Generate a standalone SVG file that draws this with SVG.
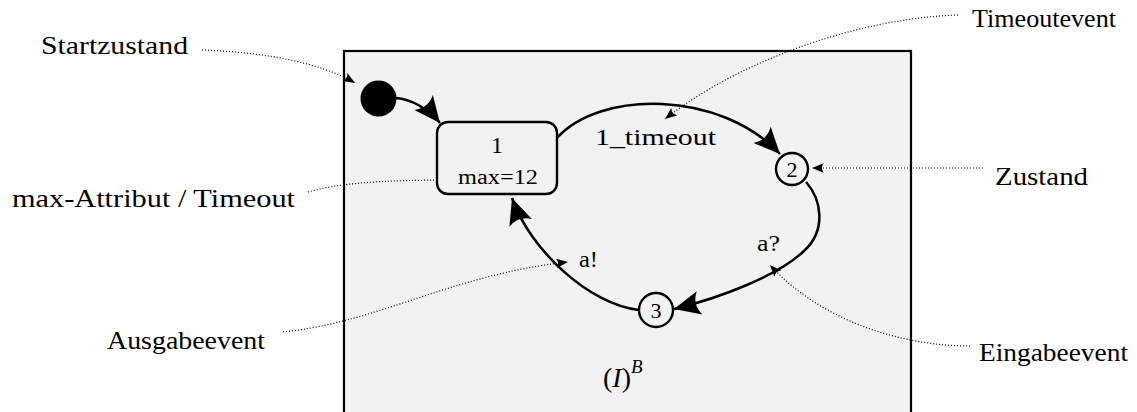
<svg xmlns="http://www.w3.org/2000/svg" width="1137" height="412" viewBox="0 0 1137 412">
<style>
text{font-family:"Liberation Serif",Tinos,"Times New Roman",Times,"DejaVu Serif","Noto Serif",Georgia,serif;fill:#000}
.lbl{font-size:26px}
.st{fill:#f2f2f2;stroke:#000;stroke-width:2.4}
.edge{fill:none;stroke:#000;stroke-width:2.5;marker-end:url(#big)}
.note{fill:none;stroke:#000;stroke-width:1.2;stroke-dasharray:1 2;marker-end:url(#small)}
</style>
<defs>
<marker id="big" markerUnits="userSpaceOnUse" markerWidth="30" markerHeight="30" viewBox="-22 -11 24 22" refX="1" refY="0" orient="auto">
<path d="M1,0 L-20,-9.5 Q-14,0 -20,9.5 Z" fill="#000"/>
</marker>
<marker id="small" markerUnits="userSpaceOnUse" markerWidth="14" markerHeight="14" viewBox="-11 -5 12 10" refX="0" refY="0" orient="auto">
<path d="M0,0 L-10,-4 Q-7,0 -10,4 Z" fill="#000"/>
</marker>
</defs>
<rect id="frame" x="344" y="51" width="567" height="380" fill="#f2f2f2" stroke="#000" stroke-width="2.2"/>
<g id="connectors">
<path class="edge" d="M396,98 C410,99 428,108 440,123"/>
<path class="edge" d="M557,138 C600,90 720,90 780,154"/>
<path class="edge" d="M806,182 C822,200 826,230 805,250 C780,275 720,298 674,309"/>
<path class="edge" d="M639,310 C590,305 530,250 512,198"/>
<path class="note" d="M202,50 C260,52 320,62 355,83"/>
<path class="note" d="M308,192 C340,183 380,180 457,180"/>
<path class="note" d="M283,332 C380,322 450,275 568,262"/>
<path class="note" d="M958,15 C860,18 740,60 665,119"/>
<path class="note" d="M983,168 L812,168"/>
<path class="note" d="M970,346 C900,346 820,320 770,265"/>
</g>
<g id="init"><circle cx="378.5" cy="98.5" r="18" fill="#000"/></g>
<g id="s1">
<rect class="st" x="437" y="122" width="120" height="72" rx="11"/>
<text x="497" y="153" font-size="24" text-anchor="middle">1</text>
<text x="458" y="184" font-size="20" textLength="80" lengthAdjust="spacingAndGlyphs">max=12</text>
</g>
<g id="s2">
<circle class="st" cx="792" cy="169" r="16"/>
<text x="792" y="177" font-size="22" text-anchor="middle">2</text>
</g>
<g id="s3">
<circle class="st" cx="656" cy="310" r="17"/>
<text x="656" y="318" font-size="22" text-anchor="middle">3</text>
</g>
<g id="edge-labels">
<text x="595" y="145" font-size="24" textLength="121" lengthAdjust="spacingAndGlyphs">1_timeout</text>
<text x="757" y="251" font-size="24" textLength="23" lengthAdjust="spacingAndGlyphs">a?</text>
<text x="579" y="267" font-size="24" textLength="19" lengthAdjust="spacingAndGlyphs">a!</text>
</g>
<g id="title">
<text x="603" y="387" font-size="28">(<tspan font-style="italic">I</tspan>)<tspan font-style="italic" font-size="19" dy="-14">B</tspan></text>
</g>
<g id="annotations">
<text class="lbl" x="41" y="54" textLength="147" lengthAdjust="spacingAndGlyphs">Startzustand</text>
<text class="lbl" x="12" y="207" textLength="283" lengthAdjust="spacingAndGlyphs">max-Attribut / Timeout</text>
<text class="lbl" x="107" y="349" textLength="158" lengthAdjust="spacingAndGlyphs">Ausgabeevent</text>
<text class="lbl" x="972" y="27" textLength="144" lengthAdjust="spacingAndGlyphs">Timeoutevent</text>
<text class="lbl" x="995" y="185" textLength="93" lengthAdjust="spacingAndGlyphs">Zustand</text>
<text class="lbl" x="979" y="361" textLength="149" lengthAdjust="spacingAndGlyphs">Eingabeevent</text>
</g>
</svg>
